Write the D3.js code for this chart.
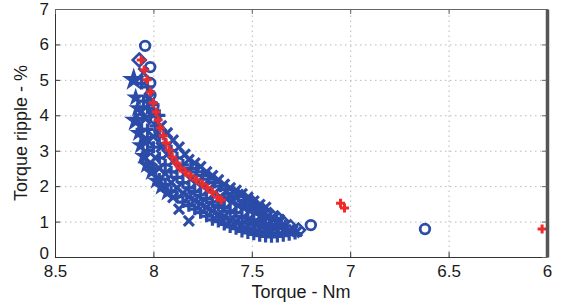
<!DOCTYPE html>
<html>
<head>
<meta charset="utf-8">
<script src="https://cdn.jsdelivr.net/npm/d3@7"></script>
<style>
  body { margin: 0; background: #fff; }
  text { font-family: "Liberation Sans", Arial, sans-serif; fill: #1a1a1a; }
</style>
</head>
<body>
<svg id="chart" width="564" height="302"></svg>
<script>
// ticks
const xTicks = [8.5, 8, 7.5, 7, 6.5, 6];
const yTicks = [0, 1, 2, 3, 4, 5, 6, 7];

// [torque Nm, ripple %]
const circlesBlue = [[8.042, 5.96], [8.016, 5.36], [8.016, 4.91], [8.015, 4.57], [8.0, 4.25],
  [7.99, 3.9], [7.97, 3.55], [7.20, 0.90], [6.62, 0.79]];
const diamondsBlue = [[8.072, 5.56], [7.60, 1.82], [7.55, 1.7], [7.50, 1.55], [7.45, 1.35],
  [7.405, 1.19], [7.37, 1.1], [7.344, 0.99], [7.303, 0.85], [7.263, 0.76], [7.42, 0.9], [7.36, 0.82]];
const starsBigBlue = [[8.10, 5.0], [8.09, 3.85]];
const starsBlue = [[8.09, 4.5], [8.08, 4.2], [8.075, 3.5], [8.065, 3.15], [8.05, 2.85], [8.035, 2.6],
  [8.01, 2.4], [7.985, 2.15], [7.96, 1.98], [7.93, 1.82]];
const plusBlue = [[8.06, 4.9], [8.05, 4.4], [8.06, 3.6],
  [8.03, 3.0], [8.03, 3.6], [8.03, 4.2], [8.03, 4.8],
  [8.0, 2.5], [8.0, 3.1], [7.99, 3.7], [8.0, 4.3],
  [7.97, 2.2], [7.97, 2.8], [7.97, 3.4], [7.97, 4.0],
  [7.94, 2.05], [7.94, 2.6], [7.94, 3.2],
  [7.91, 1.85], [7.91, 2.4], [7.91, 3.0],
  [7.88, 1.7], [7.88, 2.25], [7.88, 2.8],
  [7.85, 1.55], [7.85, 2.1], [7.85, 2.6],
  [7.82, 1.45], [7.82, 1.95], [7.81, 2.5],
  [7.79, 1.35], [7.79, 1.85], [7.78, 2.4],
  [7.76, 1.25], [7.76, 1.75], [7.75, 2.3],
  [7.73, 1.15], [7.73, 1.65], [7.72, 2.2],
  [7.70, 1.05], [7.70, 1.55], [7.69, 2.1],
  [7.67, 1.0], [7.67, 1.45], [7.66, 2.0],
  [7.64, 0.92], [7.64, 1.4], [7.63, 1.9],
  [7.61, 0.85], [7.61, 1.3], [7.60, 1.8],
  [7.58, 0.8], [7.58, 1.25], [7.57, 1.7],
  [7.55, 0.72], [7.55, 1.15], [7.54, 1.6],
  [7.52, 0.68], [7.52, 1.1], [7.51, 1.5],
  [7.49, 0.64], [7.49, 1.05], [7.48, 1.42],
  [7.46, 0.6], [7.46, 1.0], [7.45, 1.2],
  [7.43, 0.58], [7.43, 0.95], [7.40, 0.57], [7.40, 0.92],
  [7.37, 0.58], [7.37, 0.9], [7.34, 0.6], [7.33, 0.88],
  [7.31, 0.63], [7.28, 0.66]];
const crossBlue = [[8.05, 5.2], [8.06, 4.1], [8.05, 3.3],
  [8.04, 2.8], [8.03, 3.3], [8.04, 3.9], [8.02, 4.5],
  [7.99, 2.8], [8.0, 3.4], [8.0, 4.0],
  [7.97, 2.5], [7.96, 3.1], [7.96, 3.7],
  [7.94, 2.35], [7.93, 2.9], [7.93, 3.5],
  [7.91, 2.1], [7.90, 2.7], [7.90, 3.3],
  [7.88, 1.95], [7.87, 2.5], [7.87, 3.1],
  [7.85, 1.8], [7.84, 2.35], [7.84, 2.9],
  [7.82, 1.7], [7.81, 2.2], [7.82, 2.75],
  [7.79, 1.6], [7.78, 2.1], [7.79, 2.65],
  [7.76, 1.5], [7.75, 2.0], [7.76, 2.55],
  [7.73, 1.4], [7.72, 1.9], [7.73, 2.4],
  [7.70, 1.3], [7.69, 1.8], [7.70, 2.3],
  [7.67, 1.2], [7.66, 1.7], [7.67, 2.18],
  [7.64, 1.15], [7.63, 1.65], [7.64, 2.05],
  [7.61, 1.05], [7.60, 1.55], [7.61, 1.95],
  [7.58, 1.0], [7.57, 1.45], [7.58, 1.88],
  [7.55, 0.92], [7.54, 1.38], [7.55, 1.78],
  [7.52, 0.88], [7.51, 1.3], [7.52, 1.68],
  [7.49, 0.84], [7.48, 1.25], [7.49, 1.58],
  [7.46, 0.8], [7.45, 1.18], [7.46, 1.48],
  [7.43, 0.76], [7.42, 1.15], [7.43, 1.4],
  [7.40, 0.74], [7.39, 1.1], [7.37, 0.74], [7.36, 1.05],
  [7.34, 0.74], [7.31, 0.76], [7.27, 0.72],
  [7.90, 1.68], [7.87, 1.35], [7.82, 1.02]];
const plusRed = [[8.062, 5.56], [8.047, 5.28], [8.032, 5.0], [8.016, 4.66], [8.001, 4.35],
  [7.986, 4.09], [7.976, 3.87], [7.965, 3.64], [7.95, 3.42], [7.935, 3.22], [7.92, 3.02],
  [7.904, 2.82], [7.884, 2.65], [7.864, 2.51], [7.838, 2.4], [7.813, 2.29], [7.782, 2.17],
  [7.752, 2.06], [7.726, 1.95], [7.70, 1.83], [7.675, 1.69], [7.655, 1.61],
  [7.049, 1.52], [7.029, 1.38], [6.025, 0.79]];

const blue = "#2b4ba8";
const red = "#ee2a2a";

const svg = d3.select("#chart");
const x = d3.scaleLinear().domain([8.5, 6]).range([55, 547]);
const y = d3.scaleLinear().domain([0, 7]).range([257, 9]);

// grid
const grid = svg.append("g").attr("stroke", "#b8b8b8").attr("stroke-width", 1).attr("stroke-dasharray", "1.5,3.5");
grid.selectAll(".gy").data(yTicks.slice(1, -1)).join("line")
  .attr("x1", x(8.5)).attr("x2", x(6)).attr("y1", d => y(d) + 0.5).attr("y2", d => y(d) + 0.5);
grid.selectAll(".gx").data(xTicks.slice(1, -1)).join("line")
  .attr("y1", y(0)).attr("y2", y(7)).attr("x1", d => x(d) + 0.5).attr("x2", d => x(d) + 0.5);

// marker paths
function plusPath(s) { return `M${-s},0H${s}M0,${-s}V${s}`; }
function xPath(s) { return `M${-s},${-s}L${s},${s}M${-s},${s}L${s},${-s}`; }
function diamondPath(s) { return `M0,${-s}L${s},0L0,${s}L${-s},0Z`; }

const marks = svg.append("g");

function drawStroked(data, color, path, width) {
  marks.append("g").selectAll("path").data(data).join("path")
    .attr("transform", d => `translate(${x(d[0])},${y(d[1])})`)
    .attr("d", path)
    .attr("fill", "none").attr("stroke", color).attr("stroke-width", width);
}

drawStroked(crossBlue, blue, xPath(5), 3.2);
drawStroked(plusBlue, blue, plusPath(6), 3.2);
drawStroked(diamondsBlue, blue, diamondPath(6.5), 2.6);
marks.append("g").selectAll("path").data(starsBlue).join("path")
  .attr("transform", d => `translate(${x(d[0])},${y(d[1])})`)
  .attr("d", d3.symbol(d3.symbolStar, 110)).attr("fill", blue);
marks.append("g").selectAll("path").data(starsBigBlue).join("path")
  .attr("transform", d => `translate(${x(d[0])},${y(d[1])})`)
  .attr("d", d3.symbol(d3.symbolStar, 170)).attr("fill", blue);
marks.append("g").selectAll("circle").data(circlesBlue).join("circle")
  .attr("cx", d => x(d[0])).attr("cy", d => y(d[1])).attr("r", 4.8)
  .attr("fill", "none").attr("stroke", blue).attr("stroke-width", 2.8);
drawStroked(plusRed, red, plusPath(4.5), 3);

// axes
const tickFmt = d3.format("");
svg.append("g").attr("transform", `translate(0,${y(0)})`)
  .call(d3.axisBottom(x).tickValues(xTicks).tickFormat(tickFmt).tickSizeInner(-5).tickSizeOuter(0).tickPadding(8))
  .call(g => g.selectAll("text").style("font-size", "17px").attr("fill", "#1a1a1a"))
  .call(g => g.selectAll("line,path").attr("stroke", "#333"));
svg.append("g").attr("transform", `translate(${x(8.5)},0)`)
  .call(d3.axisLeft(y).tickValues(yTicks).tickFormat(tickFmt).tickSizeInner(-5).tickSizeOuter(0).tickPadding(6))
  .call(g => g.selectAll("text").style("font-size", "17px").attr("fill", "#1a1a1a"))
  .call(g => g.selectAll(".tick").filter(d => d === 0).select("text").attr("dy", "0.1em"))
  .call(g => g.selectAll("line,path").attr("stroke", "#333"));
svg.append("g").attr("transform", `translate(0,${y(7)})`)
  .call(d3.axisTop(x).tickValues(xTicks).tickFormat("").tickSizeInner(-5).tickSizeOuter(0))
  .call(g => g.selectAll("line,path").attr("stroke", "#666"));
svg.append("g").attr("transform", `translate(${x(6)},0)`)
  .call(d3.axisRight(y).tickValues(yTicks).tickFormat("").tickSizeInner(-5).tickSizeOuter(0))
  .call(g => g.selectAll("line").attr("stroke", "#666"))
  .call(g => g.select(".domain").attr("stroke", "#555").attr("stroke-width", 3.5));

// titles
svg.append("text").attr("x", (x(8.5) + x(6)) / 2).attr("y", 298)
  .attr("text-anchor", "middle").style("font-size", "18px").text("Torque -  Nm");
svg.append("text").attr("transform", `translate(27,${(y(0) + y(7)) / 2}) rotate(-90)`)
  .attr("text-anchor", "middle").style("font-size", "18px").text("Torque ripple - %");
</script>
</body>
</html>
